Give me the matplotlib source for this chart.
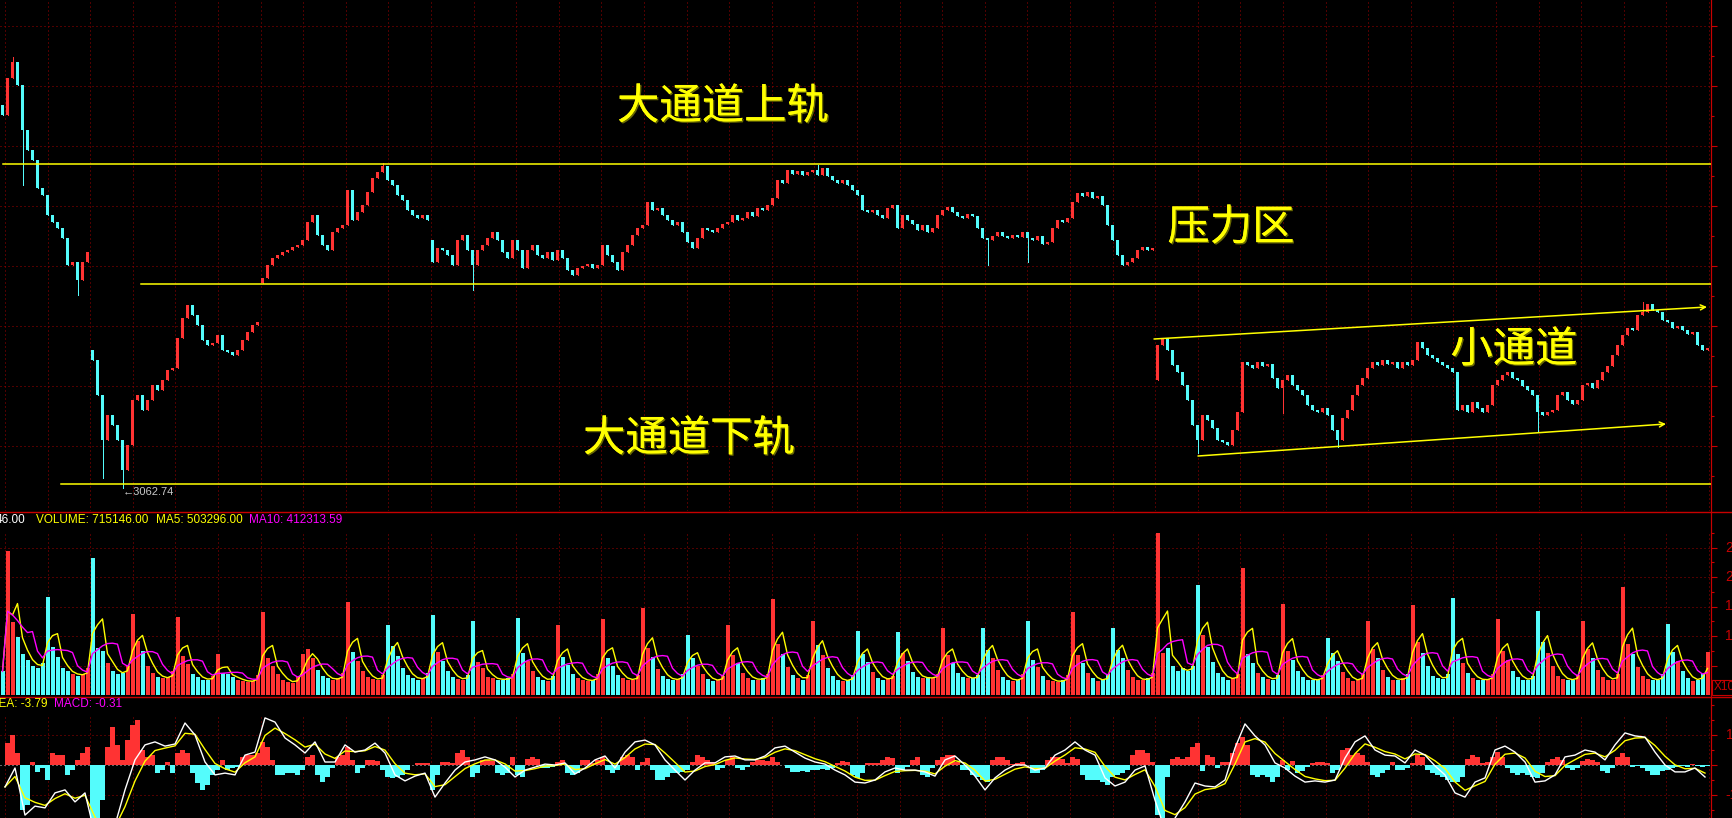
import numpy as np
import pandas as pd
import matplotlib
matplotlib.use("Agg")
import matplotlib.pyplot as plt
import matplotlib.patheffects as pe
from matplotlib.lines import Line2D
from matplotlib.patches import Rectangle

W, H, DPI = 1732, 818, 100
PX = 5.0          # screen px per bar
X_AXIS = 1711     # right scale line

RED = "#ff3333"
CYAN = "#54fcfc"
YEL = "#ffff00"
MAG = "#ff00ff"
GRID = "#a00000"
FRAME = "#c80000"
CJK = ["Noto Sans CJK SC", "DejaVu Sans"]
LAT = ["Liberation Sans", "DejaVu Sans"]

# closes (index points), one list per stretch of the chart
seg_a = [3436, 3473, 3489, 3466, 3421, 3401, 3391, 3363, 3356, 3336,
         3329, 3323, 3313, 3286, 3289, 3271, 3289, 3299]
seg_b = [3191, 3156, 3111, 3136, 3126, 3111, 3081, 3106, 3151, 3156,
         3141, 3151, 3166, 3161, 3171, 3181, 3183, 3213, 3233, 3246,
         3236, 3226, 3211, 3206, 3208, 3216, 3201, 3199, 3196, 3201,
         3211, 3219, 3226, 3229]
seg_c = [3273, 3286, 3293, 3296, 3299, 3301, 3304, 3306, 3311, 3329,
         3336, 3316, 3306, 3301, 3319, 3323, 3326, 3361, 3331, 3339,
         3346, 3359, 3373, 3379, 3385, 3371, 3366, 3356, 3351, 3341,
         3336, 3333, 3336, 3331]
seg_d = [3289, 3303, 3301, 3296, 3286, 3311, 3316, 3301, 3286, 3301,
         3306, 3313, 3319, 3311, 3299, 3293, 3311, 3301, 3283, 3301,
         3306, 3296, 3293, 3299, 3291, 3301, 3293, 3281, 3276, 3283,
         3285, 3287, 3283, 3286, 3306, 3296, 3289, 3281, 3299, 3306,
         3316, 3323, 3326, 3349, 3341, 3343, 3336, 3331, 3326, 3329,
         3319, 3309, 3303, 3313, 3323, 3321, 3319, 3323, 3327, 3329,
         3336, 3331, 3333, 3339, 3335, 3343, 3341, 3346, 3353, 3371,
         3368, 3381, 3377, 3380, 3376, 3379, 3381, 3376, 3383, 3375,
         3371, 3368, 3371, 3366, 3361, 3356, 3341, 3339, 3341, 3336,
         3333, 3343, 3346, 3323, 3336, 3331, 3327, 3321, 3326, 3319,
         3323, 3336, 3341, 3344, 3339, 3335, 3333, 3337, 3335, 3323,
         3313, 3311, 3315, 3319, 3315, 3313, 3316, 3314, 3319, 3313,
         3311, 3315, 3307, 3309, 3323, 3331, 3329, 3333, 3349, 3358,
         3355, 3359, 3353, 3355, 3346, 3326, 3311, 3296, 3286, 3289,
         3293, 3301, 3304, 3301, 3303]
seg_e = [3206, 3213, 3201, 3186, 3179, 3166, 3151, 3126, 3111, 3136,
         3131, 3123, 3111, 3109, 3106, 3121, 3139, 3189, 3186, 3183,
         3189, 3185, 3187, 3173, 3163, 3171, 3176, 3166, 3161, 3156,
         3146, 3141, 3139, 3143, 3136, 3121, 3111, 3133, 3141, 3156,
         3166, 3173, 3183, 3189, 3186, 3191, 3187, 3189, 3183, 3189,
         3186, 3191, 3209, 3203, 3196, 3193, 3189, 3186, 3183, 3179,
         3141, 3146, 3139, 3149, 3143, 3139, 3146, 3166, 3171, 3176,
         3179, 3173, 3171, 3165, 3161, 3156, 3139, 3136, 3139, 3141,
         3156, 3159, 3151, 3147, 3151, 3166, 3168, 3163, 3171, 3179,
         3185, 3196, 3206, 3216, 3223, 3221, 3236, 3239, 3247, 3241,
         3239, 3231, 3229, 3223, 3225, 3221, 3217, 3219, 3206, 3201,
         3203]
seg_first_open = [3446, 3201, 3268, 3311, 3171]
wick_low = {4: 3366, 15: 3256, 20: 3073, 24: 3062.74, 94: 3261, 197: 3286,
            205: 3289, 239: 3098, 256: 3138, 267: 3104, 307: 3119}
wick_high = {2: 3494, 76: 3388, 163: 3386, 328: 3249}

# volume (axis units, scale shows 5/10/15/20/25)
volume = [4.0,
          24.4, 12.3, 9.8, 7.0, 6.0, 5.0, 4.5, 5.5,
          16.6, 8.1, 6.5, 4.5, 4.0, 3.5, 3.2, 3.6, 4.5,
          23.2, 8.0, 7.5, 5.5, 4.0, 3.5, 3.8, 5.0,
          13.7, 9.2, 7.4, 5.0, 3.8, 3.0, 2.8, 3.0, 4.0,
          13.3, 6.6, 5.3, 3.6, 3.0, 2.6, 2.5, 3.2,
          7.0, 3.8, 3.5, 3.0, 2.6, 2.4, 2.2, 2.4, 3.4,
          14.0, 6.2, 5.0, 3.5, 2.6, 2.2, 2.0, 3.0,
          7.0, 7.8, 6.2, 4.3, 3.2, 2.8, 2.5, 2.8, 3.8,
          15.7, 7.3, 5.8, 4.0, 3.0, 2.7, 2.5, 3.4,
          11.8, 8.3, 6.6, 4.6, 3.4, 2.8, 2.6, 2.9, 3.8,
          13.5, 7.3, 5.8, 4.0, 3.0, 2.7, 2.6, 3.4,
          12.5, 5.6, 4.5, 3.1, 2.8, 2.6, 2.6, 2.8, 3.6,
          13.1, 7.2, 5.8, 4.0, 3.0, 2.6, 2.4, 3.2,
          11.9, 6.4, 5.1, 3.5, 2.9, 2.5, 2.3, 2.6, 3.5,
          12.8, 6.2, 5.0, 3.4, 2.8, 2.5, 2.6, 3.4,
          14.7, 8.0, 6.4, 4.4, 3.2, 2.7, 2.5, 2.7, 3.6,
          10.2, 6.3, 5.0, 3.5, 2.7, 2.4, 2.5, 3.3,
          11.9, 6.7, 5.4, 3.7, 2.9, 2.6, 2.6, 2.8, 3.6,
          16.2, 8.7, 7.0, 4.8, 3.4, 2.8, 2.6, 3.4,
          12.5, 8.4, 6.7, 4.6, 3.3, 2.6, 2.3, 2.5, 3.4,
          10.8, 7.0, 5.6, 3.9, 2.9, 2.6, 2.7, 3.3,
          10.6, 7.1, 5.7, 3.9, 3.0, 2.8, 3.0, 2.9, 3.5,
          11.3, 6.7, 5.4, 3.7, 3.0, 2.8, 2.8, 3.4,
          11.3, 7.7, 6.2, 4.2, 3.1, 2.6, 2.4, 2.6, 3.5,
          12.6, 6.0, 4.8, 3.3, 2.6, 2.3, 2.2, 2.5, 3.4,
          14.0, 6.7, 5.4, 3.7, 2.8, 2.4, 2.5, 3.5,
          11.4, 7.7, 6.2, 4.2, 3.0, 2.6, 2.5, 2.8, 3.8,
          27.5, 7.2, 8.0, 5.0, 4.0, 4.5, 4.0, 5.0,
          18.6, 10.2, 8.2, 5.6, 3.8, 3.0, 2.6, 2.8, 3.6,
          21.5, 6.9, 5.5, 3.8, 3.0, 2.7, 2.6, 3.4,
          15.4, 7.4, 5.9, 4.1, 3.0, 2.6, 2.5, 2.6, 3.4,
          9.7, 7.1, 5.7, 3.9, 2.8, 2.4, 2.5, 3.6,
          12.6, 7.8, 6.2, 4.3, 3.1, 2.6, 2.5, 2.8, 3.6,
          15.2, 8.9, 7.1, 4.9, 3.3, 2.8, 2.7, 3.5,
          16.4, 6.9, 5.5, 3.8, 2.9, 2.6, 2.5, 2.7, 3.5,
          12.8, 7.4, 5.9, 4.1, 3.0, 2.6, 2.5, 3.3,
          14.2, 8.9, 7.1, 4.9, 3.3, 2.7, 2.5, 2.6, 3.4,
          12.5, 7.8, 6.2, 4.3, 3.0, 2.6, 2.6, 3.6,
          18.3, 8.7, 7.0, 4.8, 3.3, 2.7, 2.5, 2.6, 3.5,
          12.1, 7.3, 5.8, 4.0, 2.9, 2.4, 2.6, 3.6,
          7.3]

# MACD histogram, one per bar
macd_hist = [0, 7.3, 10, 4, -15, -13.3, 1, -2.3, -1, -5,
             4, 3.3, 3.3, -3.3, -1.7, 1.7, 4, 6, -18.3, -17.7,
             -11.7, 6, 12.7, 6.7, 1.7, 8.3, 13.3, 15, 5, 2.7,
             3.3, -2.7, -1.7, 1, -2.7, 4, 5, 4, -2.7, -6,
             -8.3, -6.7, -3.3, -1.7, 1.7, -1.7, -1, -0.7, 2.7, 3.3,
             3.3, 4, 7.7, 6, 1.7, -3.3, -3.3, -2.7, -2.7, -3.3,
             -1.7, 2.7, 3.3, -3.3, -5.7, -4, -1, 2.7, 3.3, 6,
             1.7, -2.7, -1, 1.7, 1.7, 1.3, -1.7, -4, -4.3, -4,
             -3.3, -1.7, 0, 0.7, 0.7, 0.7, -8.3, -3.3, 1, 1,
             0.7, 4, 5, 2.7, -4, -2.7, 1.7, 1.7, 1.3, -2.7,
             -3.3, -2.7, 2.7, -3.3, -4, 2, 2.7, 2, -1, -1,
             -0.7, 1, 1.7, -2.7, -3.3, -2.7, 1.7, 1.7, 0.7, 1.7,
             2.7, -1.7, -2.7, -1.7, 2.7, 3.3, 2.7, -1.7, 1, 2.3,
             -1.7, -5, -5, -4, -2.7, -2.7, -2.3, -1.7, 1, 3.3,
             2.7, 1.7, 1, -1.7, -1, 1.7, 2.7, -1, -1.7, -0.7,
             1, 1.7, 1.7, 1.3, 2.7, 1, 0, -1, -2.3, -2.3,
             -2, -2.3, -1.7, -1.7, -1.3, -1.7, -1, 0.7, 1.3, 1,
             -3.3, -4.3, -2.7, 0.7, 0.7, 0.7, 1.7, 2.7, 2.3, -2.7,
             -1.7, -0.7, 1.7, 2.7, -3.3, -4, -1, 1.7, 2.7, 3.3,
             3.3, 1, -1.7, -1.7, -3.3, -4, -5, -5.7, 1.7, 2.7,
             2.7, 1.7, 0.3, 0.7, 1, 0, -2.7, -2.7, -1.7, 1.7,
             2.7, 2.7, 2, 0.7, 2.7, 2, -3.3, -5, -5, -5,
             -5.7, -6.7, -4, -3.3, -2.7, -1.7, 3.3, 5, 5, 4,
             1, -16.7, -18.3, -4, 2, 2.7, 2, 2.7, 6, 7.3,
             -2, 3.3, 2.7, -1, 1, 1, 4, 7.3, 9.3, 6.7,
             -3.3, -4, -3.3, -4, -5.7, -4, 1.7, -1.7, 1.3, -2.7,
             -2, -0.7, 0.7, 1, 1, 0.7, -2.7, -1.7, 5, 5.7,
             3.3, 4, 3.3, 1, -3.3, -4, -2.7, -1.7, 1, -1.7,
             -1.7, -1, 0.7, 3.3, 2.7, -1.7, -2.7, -3.3, -4, -5,
             -5.7, -5.7, -4, 2, 3.3, 2.7, 0.7, 1, 2.7, 4.3,
             2.7, -1, -2.7, -3.3, -2.7, -3.3, -4, -4.3, -2.7, 1,
             2, 2.7, 1.7, -1, -1.7, -1, 1.3, 2, 1.7, 1,
             -2, -2.7, -1, 2.7, 4, 2.7, -0.7, -0.3, -1, -2,
             -3.3, -3.3, -2, -1.7, -1, -0.7, -0.3, -0.7, 0.3, -0.3,
             -0.7, -0.3]

# DIF, one value every second bar
dif = [-7.3, -1.0, -16.7, -13.7, -14.3, -9.3, -8.3, -12.3, -9.3, -23.3,
       -25, -20, -8.3, 1.7, 6.7, 7.7, 6.3, 7, 14, 10,
       1, -3.3, -2.7, -3.3, 3.3, 4.3, 15.7, 14.3, 9, 6.7,
       4, 7.7, 1, 1, 6.7, 4.3, 5, 7.3, 4, -3.3,
       -5.3, -3.7, -2.7, -10.7, -6, -1.7, 1, 1.7, 2.7, 1.7,
       -0.7, -4, -1.7, -0.7, 0.3, 0, 0.7, -3, -1, 1.7,
       3, -1, 4.3, 7.7, 8.3, 6.7, 1.7, -1.7, -5, -1.7,
       0.7, 0.7, 2.7, 3, 1.7, 1.7, 3, 5.7, 6.3, 4.3,
       2.3, 1, 0.3, -1.7, -3.3, -5.7, -6, -5, -2.3, -1,
       -1.7, -1.7, -2.3, -3.7, 1.7, 3, 0, -3.7, -8.3, -4.3,
       -1.7, 0, 0, -1.7, -1, 3.3, 5, 7.7, 5, 3.3,
       -4.3, -7, -5.7, -1.7, -0.3, -11.7, -21.7, -17.7, -12.3, -6,
       -7, -7.3, -5, 5.7, 13.7, 9.7, 6.7, 0.7, -1, -3.7,
       -5.7, -5.3, -5.7, -5, 2.3, 7.7, 9.7, 5, 3.3, 3,
       0.7, 5, 3.3, -0.3, -3.3, -9.3, -10.7, -5.7, -4.3, 5,
       6.3, 4.3, 1, -5.7, -5.3, -3.3, 2.7, 3.3, 5, 4.3,
       1.7, 6.7, 10.7, 9.7, 9.3, 4.3, 0, -2.3, -2.3, -1,
       -4]

# hand-drawn trend lines: (bar, price)
rail_prices = [3387, 3267, 3067]
rail_start = [0.1, 27.7, 11.7]
small_up = [(230.3, 3212), (340.9, 3244)]
small_dn = [(239.1, 3095), (332.7, 3127)]
notes = [("大通道上轨", 144.1, 3444), ("压力区", 245.7, 3323),
         ("小通道", 302.3, 3201), ("大通道下轨", 137.3, 3112)]

# ---------------------------------------------------------------
segs = [seg_a, seg_b, seg_c, seg_d, seg_e]
closes = np.array(sum(segs, []), dtype=float)
n = len(closes)
opens = np.r_[closes[0], closes[:-1]]
starts = np.cumsum([0] + [len(s) for s in segs[:-1]])
opens[starts] = seg_first_open
highs = np.maximum(opens, closes)
lows = np.minimum(opens, closes)
for k, v in wick_low.items():
    lows[k] = min(lows[k], v)
for k, v in wick_high.items():
    highs[k] = max(highs[k], v)
up = closes >= opens
colors = np.where(up, RED, CYAN)
x = np.arange(n)

fig = plt.figure(figsize=(W / DPI, H / DPI), dpi=DPI, facecolor="black")


def rect(top, bottom):
    return [0, 1 - bottom / H, X_AXIS / W, (bottom - top) / H]


ax_p = fig.add_axes(rect(0, 511))
ax_v = fig.add_axes(rect(512, 695))
ax_m = fig.add_axes(rect(697, 818))

xmax = X_AXIS / PX - 0.5
gx = [0.5 + 8.52 * k for k in range(41)]
dot = (0, (1, 3))

for ax in (ax_p, ax_v, ax_m):
    ax.set_facecolor("black")
    ax.set_xlim(-0.5, xmax)
    for s in ("left", "top", "bottom"):
        ax.spines[s].set_visible(False)
    ax.spines["right"].set_color(FRAME)
    ax.spines["right"].set_linewidth(0.8)
    ax.set_xticks([])
    ax.yaxis.tick_right()
    ax.tick_params(axis="y", which="both", colors=FRAME, labelright=False,
                   direction="out", width=0.8)
    ax.tick_params(axis="y", which="major", length=4)
    ax.tick_params(axis="y", which="minor", length=2)


def grid(ax, ys, top=1.0):
    for g in gx:
        ax.axvline(g, 0, top, color=GRID, lw=0.72, ls=dot, zorder=0)
    for y in ys:
        ax.axhline(y, color=GRID, lw=0.72, ls=dot, zorder=0)


# price panel
ax_p.set_ylim(3040, 3551)
p_major = [3105 + 60 * k for k in range(8)]
grid(ax_p, p_major)
ax_p.set_yticks(p_major)
ax_p.set_yticks([3075 + 60 * k for k in range(8)], minor=True)

ax_p.vlines(x, lows, highs, colors=colors, lw=0.72, antialiased=False, zorder=2)
body = np.maximum(np.abs(closes - opens), 1.0)
ax_p.bar(x, body, bottom=np.minimum(opens, closes), width=0.42, color=colors,
         linewidth=0, antialiased=False, zorder=3)

for p, s in zip(rail_prices, rail_start):
    ax_p.plot([s, xmax], [p, p], color=YEL, lw=1.1, zorder=4)
for (a, b) in (small_up, small_dn):
    ax_p.annotate("", xy=b, xytext=a, zorder=4,
                  arrowprops=dict(arrowstyle="->", color=YEL, lw=1.1,
                                  mutation_scale=9, shrinkA=0, shrinkB=0))
for t, tx, ty in notes:
    ax_p.text(tx, ty, t, color=YEL, fontsize=30.5, family=CJK, ha="center",
              va="center", zorder=6, fontweight="light",
              path_effects=[pe.withSimplePatchShadow(offset=(1, -1),
                                                     shadow_rgbFace="#6a6a00",
                                                     alpha=1.0),
                            pe.Normal()])
low_i = int(np.argmin(lows))
ax_p.text(low_i + 0.1, 3059, "←" + f"{lows[low_i]:.2f}", color="#c8c8c8",
          fontsize=8, family=LAT, ha="left", va="center", zorder=6)

# volume panel
v = np.array(volume, dtype=float)
m = min(len(v), n)
ax_v.set_ylim(0, 183 / 5.9)
grid(ax_v, [5, 10, 15, 20, 25], top=(695 - 532) / 183)
ax_v.set_yticks([5, 10, 15, 20, 25])
ax_v.set_yticks([2.5 + 5 * k for k in range(6)], minor=True)
ax_v.bar(x[:m], v[:m], width=0.8, color=colors[:m], linewidth=0,
         antialiased=False, zorder=2)
vs = pd.Series(v)
ax_v.plot(np.arange(len(v)), vs.rolling(3, min_periods=1).mean(), color=YEL,
          lw=1.0, zorder=3)
ax_v.plot(np.arange(len(v)), vs.rolling(6, min_periods=1).mean(), color=MAG,
          lw=1.0, zorder=3)

# MACD panel
ax_m.set_ylim(-53 / 3, 68 / 3)
grid(ax_m, [-10, 10], top=(818 - 715) / 121)
ax_m.axhline(0, color="#d0d0d0", lw=0.72, ls=dot, zorder=1)
ax_m.set_yticks([-10, 0, 10])
ax_m.set_yticks([-15, -5, 5, 15, 20], minor=True)
hist = np.array(macd_hist, dtype=float)
hx = np.arange(len(hist))
ax_m.bar(hx, hist, width=0.85, color=np.where(hist >= 0, RED, CYAN),
         linewidth=0, antialiased=False, zorder=2)
dif_s = pd.Series(dif, dtype=float)
dea = dif_s.ewm(alpha=0.55, adjust=False).mean()
dx = 0.5 + 2 * np.arange(len(dif))
ax_m.plot(dx, dea, color=YEL, lw=1.0, zorder=3)
ax_m.plot(dx, dif_s, color="white", lw=1.0, zorder=4)


# frame lines, headers, scale labels (pixel placed)
def fx(px):
    return px / W


def fy(py):
    return 1 - py / H


fig.add_artist(Line2D([fx(X_AXIS)] * 2, [0, 1], color=FRAME, lw=0.8))
for yy in (512, 697):
    fig.add_artist(Line2D([0, 1], [fy(yy)] * 2, color=FRAME, lw=1.0))
fig.add_artist(Rectangle((fx(1712), fy(695)), 25 / W, 15 / H,
                         transform=fig.transFigure, facecolor="black",
                         edgecolor=FRAME, lw=0.8))
fig.text(fx(1714), fy(687.5), "X10", color=FRAME, fontsize=8.5, family=LAT,
         va="center", ha="left")

hdr = dict(fontsize=8.5, family=LAT, va="center")
fig.text(fx(25), fy(520), "46.00", color="white", ha="right", **hdr)
fig.text(fx(36), fy(520), "VOLUME: 715146.00", color=YEL, ha="left", **hdr)
fig.text(fx(156), fy(520), "MA5: 503296.00", color=YEL, ha="left", **hdr)
fig.text(fx(249), fy(520), "MA10: 412313.59", color=MAG, ha="left", **hdr)
fig.text(fx(47), fy(704), "DEA: -3.79", color=YEL, ha="right", **hdr)
fig.text(fx(54), fy(704), "MACD: -0.31", color=MAG, ha="left", **hdr)

for val in (25, 20, 15, 10):
    yy = 695 - val * 5.9
    fig.text(fx(1725), fy(yy), f"{val}00", color=FRAME, fontsize=10,
             family=LAT, ha="left", va="center")
fig.text(fx(1726), fy(735), "10.00", color=FRAME, fontsize=10, family=LAT,
         ha="left", va="center")
fig.text(fx(1725), fy(795), "-10.00", color=FRAME, fontsize=10, family=LAT,
         ha="left", va="center")

fig.savefig("out.png", dpi=DPI, facecolor="black")
